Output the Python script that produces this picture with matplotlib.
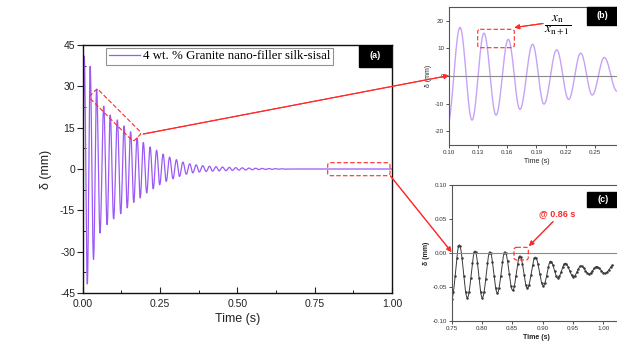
import numpy as np
import matplotlib
matplotlib.use("Agg")
import matplotlib.pyplot as plt
from matplotlib.patches import FancyBboxPatch, Rectangle
from matplotlib.transforms import Affine2D

W, H = 617, 341

# (a) full record: turning points (s, mm) of the free-vibration response
a_peak_t = [0.005, 0.024, 0.045, 0.068, 0.089, 0.112, 0.134, 0.155, 0.176, 0.196,
            0.218, 0.239, 0.260, 0.281, 0.303, 0.324, 0.346, 0.367, 0.388, 0.410,
            0.431, 0.452, 0.474, 0.495, 0.516, 0.538, 0.559, 0.580, 0.602, 0.623, 0.644]
a_peak_v = [41.0, 37.2, 29.0, 22.8, 19.6, 17.8, 15.6, 13.5, 11.3, 9.6,
            8.0, 6.8, 5.4, 4.3, 3.4, 2.5, 1.9, 1.5, 1.2, 1.0,
            0.85, 0.7, 0.6, 0.5, 0.42, 0.35, 0.28, 0.22, 0.17, 0.12, 0.08]
a_trough_t = [0.015, 0.035, 0.056, 0.079, 0.100, 0.123, 0.144, 0.165, 0.186, 0.207,
              0.228, 0.249, 0.270, 0.292, 0.313, 0.335, 0.356, 0.377, 0.399, 0.420,
              0.441, 0.463, 0.484, 0.505, 0.527, 0.548, 0.570, 0.591, 0.612, 0.634, 0.655]
a_trough_v = [-41.7, -32.8, -23.2, -20.2, -18.1, -16.2, -14.1, -12.1, -10.5, -8.7,
              -7.2, -5.7, -4.5, -3.5, -2.7, -1.9, -1.4, -1.1, -0.9, -0.8,
              -0.7, -0.6, -0.5, -0.42, -0.35, -0.28, -0.22, -0.17, -0.12, -0.08, -0.05]
a_start = (0.0, 0.0)
a_rest_t = [0.68, 1.0]
a_rest_v = [0.0, 0.0]

# (b) close-up of the early decay
b_turn_t = [0.0985, 0.1113, 0.1237, 0.1360, 0.1484, 0.1610, 0.1730, 0.1860, 0.1977,
            0.2108, 0.2231, 0.2355, 0.2474, 0.2598, 0.2728]
b_turn_v = [-17.8, 17.6, -16.0, 15.5, -14.2, 13.3, -12.1, 11.5, -10.2,
            9.5, -8.5, 8.3, -6.9, 6.7, -5.5]

# (c) close-up of the tail
c_turn_t = [0.750, 0.7626, 0.7758, 0.7885, 0.8005, 0.8132, 0.8253, 0.8380, 0.8506,
            0.8627, 0.8748, 0.8880, 0.9012, 0.9133, 0.9250, 0.9375, 0.9507, 0.9634,
            0.9766, 0.9890, 1.0030, 1.0167]
c_turn_v = [-0.067, 0.012, -0.066, 0.003, -0.066, 0.002, -0.059, 0.002, -0.055,
            -0.004, -0.052, -0.006, -0.0485, -0.012, -0.037, -0.015, -0.035, -0.019,
            -0.031, -0.020, -0.030, -0.018]

a_xticks = [0.0, 0.25, 0.5, 0.75, 1.0]
a_yticks = [-45, -30, -15, 0, 15, 30, 45]
b_xticks = [0.10, 0.13, 0.16, 0.19, 0.22, 0.25]
b_yticks = [-20, -10, 0, 10, 20]
c_xticks = [0.75, 0.80, 0.85, 0.90, 0.95, 1.00]
c_yticks = [-0.10, -0.05, 0.00, 0.05, 0.10]

SANS = ["Liberation Sans", "DejaVu Sans"]
SERIF = ["Liberation Serif", "DejaVu Serif"]
plt.rcParams["font.family"] = SANS
plt.rcParams["mathtext.fontset"] = "stix"
plt.rcParams["axes.unicode_minus"] = False


def half_waves(t_pts, v_pts, n=20):
    """Join consecutive turning points with smooth half-cosine strokes."""
    t_out, v_out = [t_pts[0]], [v_pts[0]]
    s = np.linspace(0, 1, n)[1:]
    w = (1 - np.cos(np.pi * s)) / 2
    for i in range(len(t_pts) - 1):
        t_out.extend(t_pts[i] + (t_pts[i + 1] - t_pts[i]) * s)
        v_out.extend(v_pts[i] + (v_pts[i + 1] - v_pts[i]) * w)
    return np.array(t_out), np.array(v_out)


fig = plt.figure(figsize=(W / 100, H / 100), dpi=100)
fig.patch.set_facecolor("white")
pix = Affine2D().scale(1.0 / W, -1.0 / H).translate(0, 1) + fig.transFigure


def box_px(x0, y0, x1, y1):
    return [x0 / W, 1 - y1 / H, (x1 - x0) / W, (y1 - y0) / H]


# ---------------- panel (a) ----------------
ax = fig.add_axes(box_px(82.7, 45, 392, 293))
turns = sorted(zip(a_peak_t + a_trough_t, a_peak_v + a_trough_v))
ta = [a_start[0]] + [p[0] for p in turns] + a_rest_t
va = [a_start[1]] + [p[1] for p in turns] + a_rest_v
tt, vv = half_waves(ta, va)
ax.plot(tt, vv, color="#9b5af6", lw=0.9, label="4 wt. % Granite nano-filler silk-sisal")
ax.set_xlim(0, 1)
ax.set_ylim(-45, 45)
ax.set_xticks(a_xticks)
ax.set_xticklabels([f"{v:.2f}" for v in a_xticks])
ax.set_yticks(a_yticks)
ax.set_xticks([0.125, 0.375, 0.625, 0.875], minor=True)
ax.set_yticks([-37.5, -22.5, -7.5, 7.5, 22.5, 37.5], minor=True)
ax.tick_params(axis="y", which="major", direction="out", length=4, width=0.8,
               labelsize=7.5, colors="#222222", pad=1.5)
ax.tick_params(axis="x", which="major", direction="in", length=4, width=0.8,
               labelsize=7.5, colors="#222222", pad=4)
ax.tick_params(which="minor", direction="in", length=2, width=0.6)
for sp in ax.spines.values():
    sp.set_linewidth(1.0)
    sp.set_color("#111111")
ax.set_xlabel("Time (s)", fontsize=9, color="#222222", labelpad=3)
ax.set_ylabel("δ (mm)", fontsize=9, color="#222222", labelpad=6)
leg = ax.legend(loc="upper left", bbox_to_anchor=((106 - 82.7) / 309.3, (293 - 47.5) / 248),
                borderaxespad=0, frameon=True, fancybox=False, handlelength=2.4,
                handletextpad=0.25, borderpad=0.2, prop={"family": SERIF, "size": 9.3})
leg.get_frame().set_edgecolor("#777777")
leg.get_frame().set_linewidth(0.8)
ax.add_patch(Rectangle(((359 - 82.7) / 309.3, (293 - 67) / 248), 1.0, 1.0,
                       transform=ax.transAxes, color="black", zorder=5, clip_on=True))
ax.text((375.5 - 82.7) / 309.3, (293 - 56) / 248, "(a)", transform=ax.transAxes,
        color="white", fontsize=6.5, fontweight="bold", ha="center", va="center", zorder=6)

# ---------------- panel (b) ----------------
bx = fig.add_axes(box_px(449, 7, 449 + 0.18 * 972, 145))
tb, vb = half_waves(b_turn_t, b_turn_v)
bx.plot(tb, vb, color="#c7a2f7", lw=1.0)
bx.axhline(0, color="#8a8a8a", lw=0.8)
bx.set_xlim(0.10, 0.28)
bx.set_ylim(-25, 25)
bx.set_xticks(b_xticks)
bx.set_xticklabels([f"{v:.2f}" for v in b_xticks])
bx.set_yticks(b_yticks)
bx.tick_params(direction="out", length=2, width=0.6, labelsize=4.5, colors="#333333", pad=1.5)
for sp in bx.spines.values():
    sp.set_linewidth(0.8)
    sp.set_color("#555555")
bx.set_xlabel("Time (s)", fontsize=5, color="#222222", labelpad=2)
bx.set_ylabel("δ (mm)", fontsize=5, color="#222222", labelpad=2)
fig.add_artist(Rectangle((587, 7), 40, 18, transform=pix, color="black", zorder=5))
fig.text(602, 16, "(b)", transform=pix, color="white", fontsize=6.5, fontweight="bold",
         ha="center", va="center", zorder=6)

# ---------------- panel (c) ----------------
cx = fig.add_axes(box_px(451.7, 185, 451.7 + 0.28 * 606, 321))
tc, vc = half_waves(c_turn_t, c_turn_v, n=10)
cx.plot(tc, vc, color="#3a3a3a", lw=0.7, marker="o", ms=0.8, markevery=2)
cx.axhline(0, color="#8a8a8a", lw=0.8)
cx.set_xlim(0.75, 1.03)
cx.set_ylim(-0.10, 0.10)
cx.set_xticks(c_xticks)
cx.set_xticklabels([f"{v:.2f}" for v in c_xticks])
cx.set_yticks(c_yticks)
cx.set_yticklabels([f"{v:.2f}" for v in c_yticks])
cx.tick_params(direction="out", length=2, width=0.6, labelsize=4.5, colors="#333333", pad=1.5)
for sp in cx.spines.values():
    sp.set_linewidth(0.8)
    sp.set_color("#555555")
cx.set_xlabel("Time (s)", fontsize=5, color="#222222", labelpad=2, fontweight="bold")
cx.set_ylabel("δ (mm)", fontsize=5, color="#222222", labelpad=2, fontweight="bold")
fig.add_artist(Rectangle((587, 191.7), 40, 15, transform=pix, color="black", zorder=5))
fig.text(603, 199, "(c)", transform=pix, color="white", fontsize=6.5, fontweight="bold",
         ha="center", va="center", zorder=6)

# ---------------- call-out boxes and arrows ----------------
dash = dict(fill=False, ec="#ff2a2a", lw=0.8, ls=(0, (4, 2)), zorder=7)
fig.add_artist(FancyBboxPatch((-31.5, -6), 63, 12, boxstyle="round,pad=0,rounding_size=2.5",
                              transform=Affine2D().rotate_deg(45).translate(115.2, 115.1) + pix,
                              **dash))
fig.add_artist(FancyBboxPatch((327.7, 162.7), 62.3, 13, boxstyle="round,pad=0,rounding_size=2.5",
                              transform=pix, **dash))
fig.add_artist(FancyBboxPatch((477.7, 29.3), 36.6, 18.4, boxstyle="round,pad=0,rounding_size=2.5",
                              transform=pix, **dash))
fig.add_artist(FancyBboxPatch((514, 247.3), 14.3, 12.7, boxstyle="round,pad=0,rounding_size=2.5",
                              transform=pix, **dash))

arrow = dict(arrowstyle="-|>", color="#ff2a2a", lw=0.8, mutation_scale=7, shrinkA=0, shrinkB=0)
for (x0, y0), (x1, y1) in [((143.3, 134), (449, 75.5)),
                           ((390.5, 176), (451.5, 252)),
                           ((543, 23.5), (514.5, 27.5)),
                           ((553, 221.7), (529, 246))]:
    fig.add_artist(plt.annotate("", xy=(x1, y1), xycoords=pix, xytext=(x0, y0),
                                textcoords=pix, arrowprops=arrow, annotation_clip=False))

fig.text(558, 25, r"$\dfrac{x_{\rm n}}{x_{\rm n+1}}$", transform=pix, fontsize=9.5,
         ha="center", va="center", zorder=8)
fig.text(556.7, 213.3, "@ 0.86 s", transform=pix, color="#ff2a2a", fontsize=6.5,
         fontweight="bold", ha="center", va="center", zorder=8)

fig.savefig("out.png", dpi=100)
